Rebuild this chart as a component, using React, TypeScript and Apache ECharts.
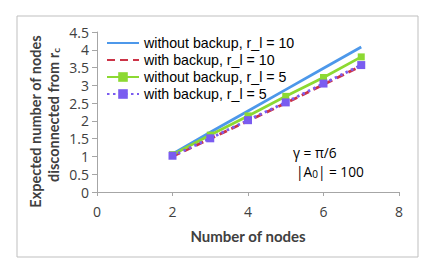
import React, { useEffect, useRef } from "react";
import * as echarts from "echarts";

const nodes = [2, 3, 4, 5, 6, 7];
const withoutBackup10 = [1.07, 1.68, 2.28, 2.88, 3.48, 4.08];
const withBackup10 = [1.0, 1.5, 2.0, 2.5, 3.02, 3.55];
const withoutBackup5 = [1.05, 1.6, 2.14, 2.69, 3.22, 3.8];
const withBackup5 = [1.02, 1.51, 2.02, 2.52, 3.05, 3.57];
const seriesNames = [
  "without backup, r_l = 10",
  "with backup, r_l = 10",
  "without backup, r_l = 5",
  "with backup, r_l = 5",
];

const FONT = "Open Sans";
const LFONT = "Liberation Sans";
const TFONT = "Lato";
const TXT = "#404040";
const AX = "#a6a6a6";
const BLUE = "#4d98ea";
const RED = "#cc3347";
const GREEN = "#8cd932";
const PURPLE = "#7a5cf0";

export default function App() {
  const ref = useRef<HTMLDivElement>(null);
  useEffect(() => {
    const chart = echarts.init(ref.current!, null, { renderer: "svg" });
    const pts = (vals: number[]) => nodes.map((n, i) => [n, vals[i]]);
    chart.setOption({
      animation: false,
      textStyle: { fontFamily: FONT },
      grid: { left: 97, right: 37, top: 32, bottom: 83 },
      legend: {
        left: 106,
        top: 34.5,
        orient: "vertical",
        itemGap: 0,
        itemWidth: 32,
        itemHeight: 12,
        padding: 0,
        textStyle: { fontFamily: LFONT, fontSize: 14.2, color: "#000", lineHeight: 17 },
        data: [
          { name: seriesNames[0], itemStyle: { opacity: 0 } },
          { name: seriesNames[1], itemStyle: { opacity: 0 } },
          { name: seriesNames[2] },
          { name: seriesNames[3] },
        ],
      },
      xAxis: {
        type: "value",
        min: 0,
        max: 8,
        interval: 2,
        splitLine: { show: false },
        axisLine: { lineStyle: { color: AX } },
        axisTick: { show: true, length: 4, lineStyle: { color: AX } },
        axisLabel: { fontFamily: FONT, fontSize: 14, color: TXT, margin: 12 },
      },
      yAxis: {
        type: "value",
        min: 0,
        max: 4.5,
        interval: 0.5,
        splitLine: { show: false },
        axisLine: { show: true, lineStyle: { color: AX } },
        axisTick: { show: true, length: 5, lineStyle: { color: AX } },
        axisLabel: { fontFamily: FONT, fontSize: 14, color: TXT, margin: 8 },
      },
      series: [
        {
          name: seriesNames[0],
          type: "line",
          data: pts(withoutBackup10),
          symbol: "none",
          lineStyle: { color: BLUE, width: 2.8 },
          itemStyle: { color: BLUE },
          z: 1,
        },
        {
          name: seriesNames[1],
          type: "line",
          data: pts(withBackup10),
          symbol: "none",
          lineStyle: { color: RED, width: 2.8, type: [8, 5] },
          itemStyle: { color: RED },
          z: 2,
        },
        {
          name: seriesNames[2],
          type: "line",
          data: pts(withoutBackup5),
          symbol: "rect",
          symbolSize: 7,
          lineStyle: { color: GREEN, width: 2.8 },
          itemStyle: { color: GREEN },
          z: 3,
        },
        {
          name: seriesNames[3],
          type: "line",
          data: pts(withBackup5),
          symbol: "rect",
          symbolSize: 8,
          lineStyle: { color: PURPLE, width: 2.8, type: [2.5, 3.5] },
          itemStyle: { color: PURPLE },
          z: 4,
        },
      ],
      graphic: [
        {
          type: "rect",
          shape: { x: 17, y: 16, width: 401, height: 241 },
          style: { fill: "none", stroke: "#bfbfbf", lineWidth: 1 },
          z: -1,
        },
        {
          type: "text",
          x: 35,
          y: 121.5,
          rotation: Math.PI / 2,
          style: {
            text: "Expected number of nodes",
            fontFamily: TFONT,
            fontSize: 14.5,
            fontWeight: "bold",
            fill: TXT,
            align: "center",
            verticalAlign: "middle",
          },
        },
        {
          type: "text",
          x: 53,
          y: 115,
          rotation: Math.PI / 2,
          style: {
            text: "disconnected from r{s|c}",
            fontFamily: TFONT,
            fontSize: 14.5,
            fontWeight: "bold",
            fill: TXT,
            align: "center",
            verticalAlign: "middle",
            rich: {
              s: { fontFamily: TFONT, fontSize: 10, fontWeight: "bold", fill: TXT, verticalAlign: "bottom", padding: [6, 0, 0, 0] },
            },
          },
        },
        {
          type: "text",
          x: 248,
          y: 235.5,
          style: {
            text: "Number of nodes",
            fontFamily: TFONT,
            fontSize: 15,
            fontWeight: "bold",
            fill: TXT,
            align: "center",
            verticalAlign: "middle",
          },
        },
        {
          type: "text",
          x: 293,
          y: 152,
          style: {
            text: "γ = π/6",
            fontFamily: FONT,
            fontSize: 13.7,
            fill: "#000",
            verticalAlign: "middle",
          },
        },
        {
          type: "text",
          x: 296,
          y: 171,
          style: {
            text: "|A{s|0}| = 100",
            fontFamily: FONT,
            fontSize: 13.7,
            fill: "#000",
            verticalAlign: "middle",
            rich: {
              s: { fontFamily: FONT, fontSize: 10, fill: "#000", padding: [6, 0, 0, 0] },
            },
          },
        },
      ],
    });
    return () => chart.dispose();
  }, []);
  return (
    <div
      ref={ref}
      style={{ position: "fixed", left: 0, top: 0, width: 436, height: 275, background: "#fff" }}
    />
  );
}
